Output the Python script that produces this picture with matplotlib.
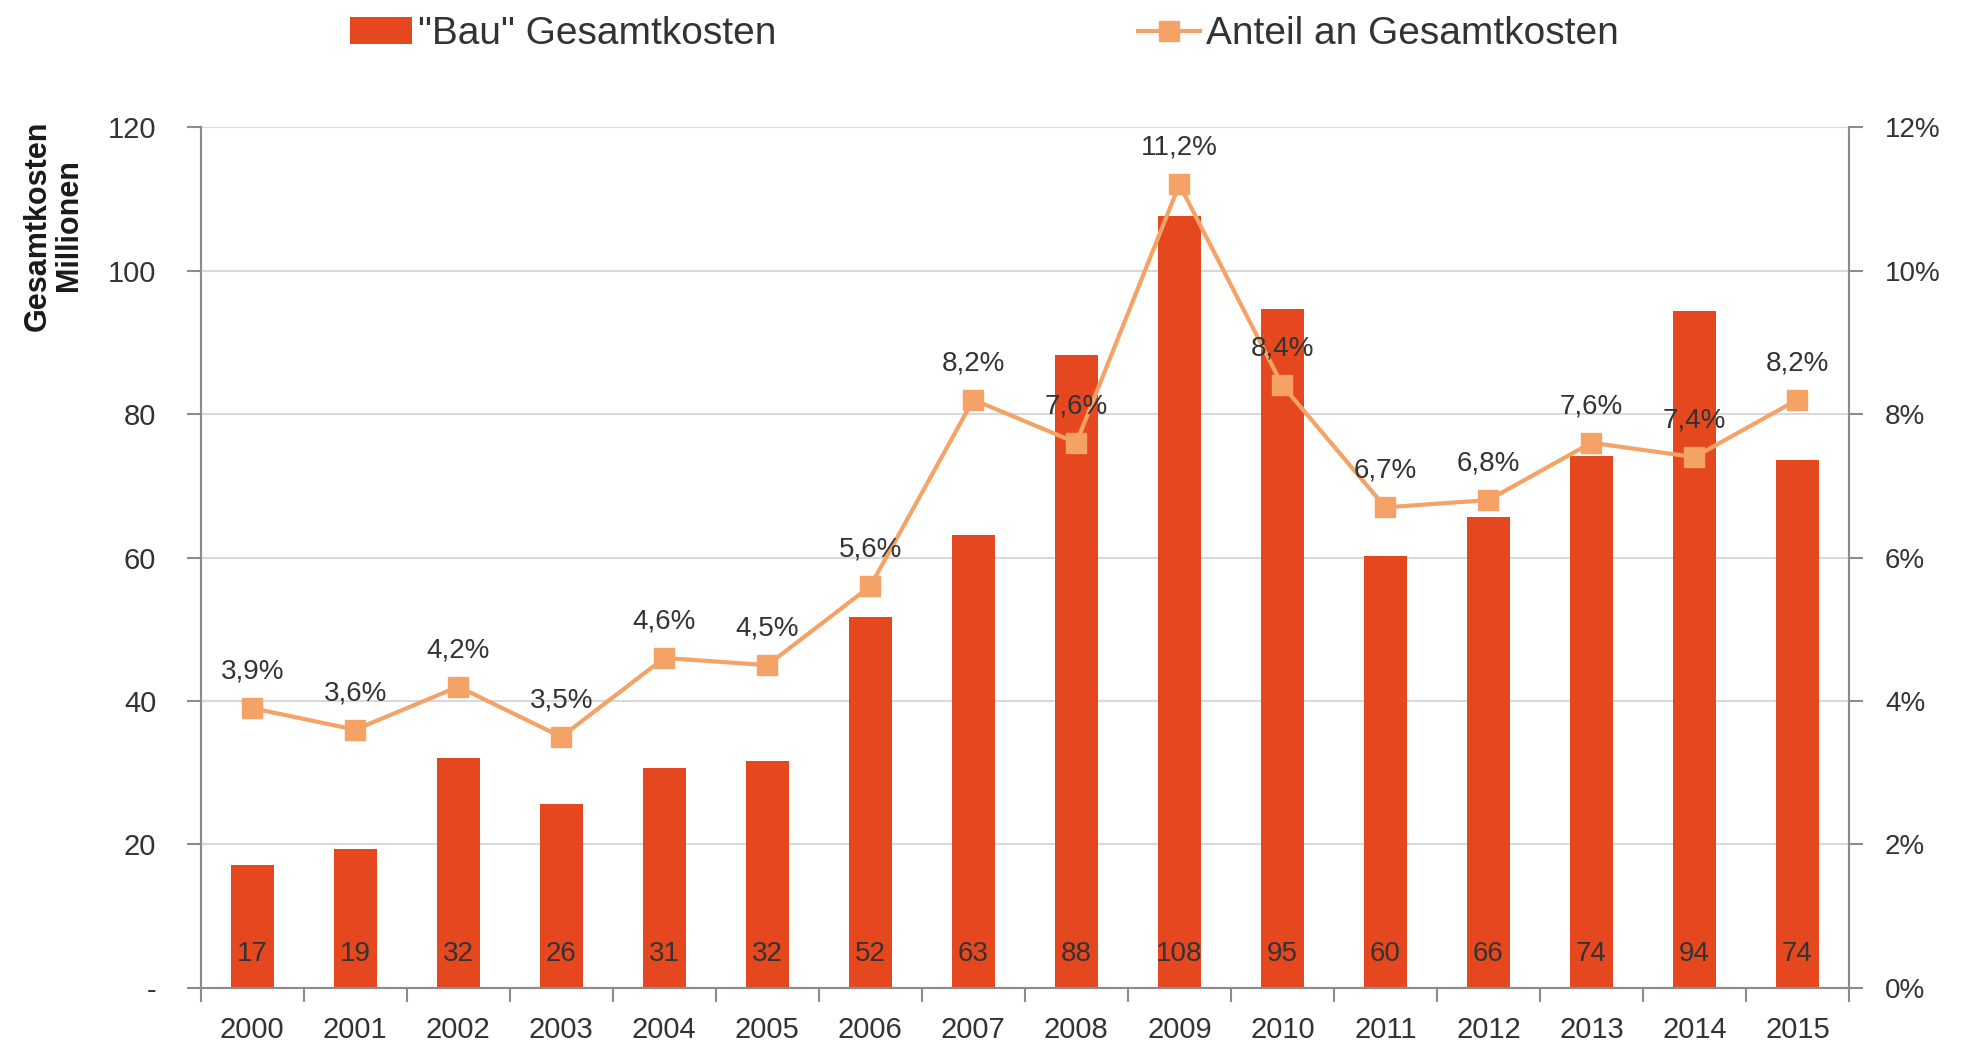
import matplotlib
matplotlib.use("Agg")
import matplotlib.pyplot as plt
import numpy as np
from matplotlib.ticker import FixedLocator, FuncFormatter

plt.rcParams['font.family'] = ['Liberation Sans', 'DejaVu Sans']

years = ["2000", "2001", "2002", "2003", "2004", "2005", "2006", "2007",
         "2008", "2009", "2010", "2011", "2012", "2013", "2014", "2015"]
kosten = [17.2, 19.3, 32.0, 25.6, 30.6, 31.6, 51.7, 63.1,
          88.2, 107.6, 94.6, 60.2, 65.7, 74.2, 94.4, 73.6]
anteil = [3.9, 3.6, 4.2, 3.5, 4.6, 4.5, 5.6, 8.2,
          7.6, 11.2, 8.4, 6.7, 6.8, 7.6, 7.4, 8.2]

bar_color = "#E5471F"
line_color = "#F5A266"
text_color = "#333333"
axis_color = "#8C8C8C"

fig = plt.figure(figsize=(19.68, 10.46), dpi=100)
ax = fig.add_axes([0.102, 0.0555, 0.8375, 0.823])
ax2 = ax.twinx()

x = np.arange(len(years))
ax.bar(x, kosten, width=0.42, color=bar_color, zorder=2, label='"Bau" Gesamtkosten')
for xi, v in zip(x, kosten):
    ax.text(xi, 4.7, f"{v:.0f}", ha="center", va="center", fontsize=20,
            color=text_color, zorder=3)

ax.set_xlim(-0.5, len(years) - 0.5)
ax.set_ylim(0, 120)
ax.set_yticks(np.arange(0, 121, 20))
ax.yaxis.set_major_formatter(FuncFormatter(lambda v, p: "-" if v == 0 else f"{v:.0f}"))
ax.grid(axis="y", color="#D9D9D9", linewidth=1.5, zorder=0)
ax.set_axisbelow(True)

ax.set_xticks(x)
ax.set_xticklabels(years)
ax.xaxis.set_minor_locator(FixedLocator(np.arange(-0.5, len(years), 1.0)))
ax.tick_params(axis="x", which="major", length=0, labelsize=21, colors=text_color, pad=20)
ax.tick_params(axis="x", which="minor", length=10, width=1.5, color=axis_color)
ax.tick_params(axis="y", length=10, width=1.5, color=axis_color, labelsize=21,
               labelcolor=text_color, pad=22)

ax2.plot(x, anteil, color=line_color, linewidth=3, marker="s", markersize=14,
         markerfacecolor=line_color, markeredgecolor=line_color, zorder=4,
         label="Anteil an Gesamtkosten")
for xi, v in zip(x, anteil):
    ax2.annotate(f"{v:.1f}%".replace(".", ","), (xi, v), xytext=(0, 17),
                 textcoords="offset points", ha="center", va="bottom",
                 fontsize=20, color=text_color, zorder=5)
ax2.set_ylim(0, 12)
ax2.set_yticks(np.arange(0, 13, 2))
ax2.yaxis.set_major_formatter(FuncFormatter(lambda v, p: f"{v:.0f}%"))
ax2.tick_params(axis="y", length=10, width=1.5, color=axis_color, labelsize=20,
                labelcolor=text_color, pad=16)

for a in (ax, ax2):
    a.spines["top"].set_visible(False)
    for s in ("left", "right", "bottom"):
        a.spines[s].set_color(axis_color)
        a.spines[s].set_linewidth(1.5)

fig.text(0.027, 0.885, "Gesamtkosten\nMillionen", rotation=90, ha="center", va="top",
         fontsize=22, fontweight="bold", color="#1a1a1a", multialignment="center",
         linespacing=1.05)

h1, l1 = ax.get_legend_handles_labels()
h2, l2 = ax2.get_legend_handles_labels()
fig.legend(h1 + h2, l1 + l2, loc="upper center", bbox_to_anchor=(0.5, 1.018), ncol=2,
           frameon=False, fontsize=28, columnspacing=9.3, handlelength=1.6,
           handletextpad=0.15, labelcolor=text_color)

fig.savefig("out.png", dpi=100)
